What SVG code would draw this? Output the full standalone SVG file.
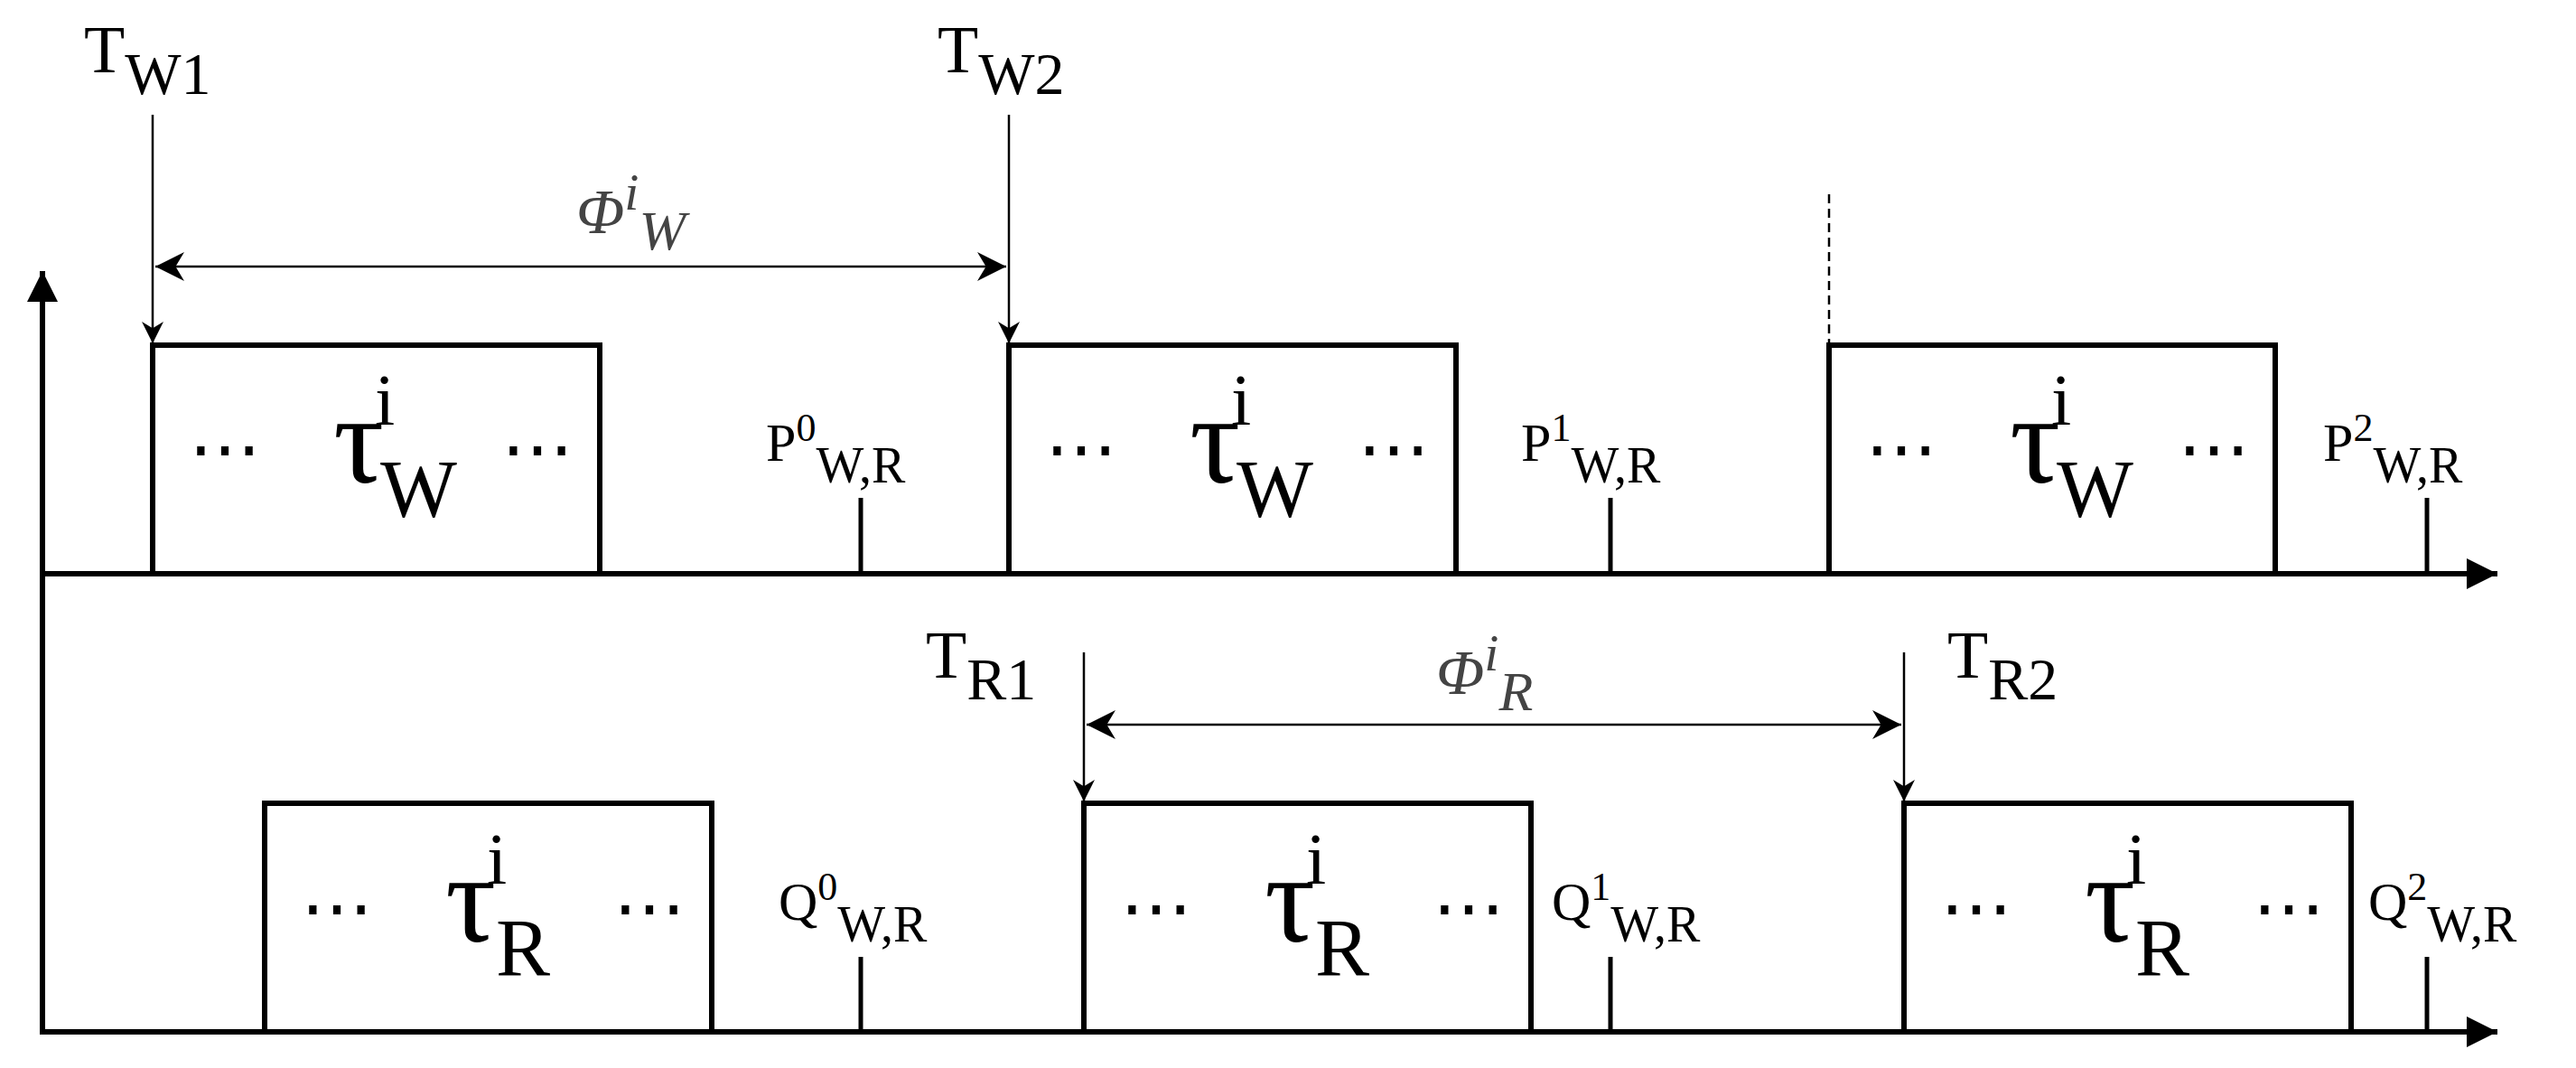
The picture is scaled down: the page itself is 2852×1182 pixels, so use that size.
<svg xmlns="http://www.w3.org/2000/svg" width="2852" height="1182" viewBox="0 0 2852 1182">
<style>
.ax{stroke:#000;stroke-width:6;fill:none}
.bx{stroke:#000;stroke-width:6;fill:#fff}
.tk{stroke:#000;stroke-width:5}
.ar{stroke:#000;stroke-width:2.5;fill:none}
text{font-family:"Liberation Serif","DejaVu Serif",serif;fill:#000}
.ph{font-style:italic;fill:#444}
</style>
<defs>
<marker id="ah" viewBox="0 0 10 10" refX="10" refY="5" markerWidth="42" markerHeight="24" markerUnits="userSpaceOnUse" orient="auto-start-reverse"><path d="M0,0 L10,5 L0,10 L3,5 Z" fill="#000"/></marker>
<marker id="big" viewBox="0 0 10 10" refX="10" refY="5" markerWidth="40" markerHeight="34" markerUnits="userSpaceOnUse" orient="auto"><path d="M0,0 L10,5 L0,10 Z" fill="#000"/></marker>
<marker id="dh" viewBox="0 0 10 10" refX="10" refY="5" markerWidth="40" markerHeight="32" markerUnits="userSpaceOnUse" orient="auto-start-reverse"><path d="M0,0 L10,5 L0,10 L3,5 Z" fill="#000"/></marker>
<g id="tw"><text x="40" y="14" font-size="80">⋯</text><text x="200" y="24" font-size="140">τ</text><text x="246" y="-40" font-size="80">i</text><text x="252" y="62" font-size="90">W</text><text x="386" y="14" font-size="80">⋯</text></g>
<g id="tr"><text x="40" y="14" font-size="80">⋯</text><text x="200" y="24" font-size="140">τ</text><text x="246" y="-40" font-size="80">i</text><text x="256" y="62" font-size="90">R</text><text x="386" y="14" font-size="80">⋯</text></g>
</defs>
<g id="axes">
<line class="ax" x1="47" y1="1145" x2="47" y2="300" marker-end="url(#big)"/>
<line class="ax" x1="44" y1="635" x2="2765" y2="635" marker-end="url(#big)"/>
<line class="ax" x1="44" y1="1142" x2="2765" y2="1142" marker-end="url(#big)"/>
</g>
<g id="w1"><rect class="bx" x="169" y="382" width="495" height="253"/><use href="#tw" x="169" y="510"/></g>
<g id="w2"><rect class="bx" x="1117" y="382" width="495" height="253"/><use href="#tw" x="1117" y="510"/></g>
<g id="w3"><rect class="bx" x="2025" y="382" width="494" height="253"/><use href="#tw" x="2025" y="510"/></g>
<g id="r1"><rect class="bx" x="293" y="889" width="495" height="253"/><use href="#tr" x="293" y="1018"/></g>
<g id="r2"><rect class="bx" x="1200" y="889" width="495" height="253"/><use href="#tr" x="1200" y="1018"/></g>
<g id="r3"><rect class="bx" x="2108" y="889" width="495" height="253"/><use href="#tr" x="2108" y="1018"/></g>
<g id="ticks">
<line class="tk" x1="953" y1="551" x2="953" y2="635"/><line class="tk" x1="1783" y1="551" x2="1783" y2="635"/><line class="tk" x1="2687" y1="551" x2="2687" y2="635"/>
<line class="tk" x1="953" y1="1059" x2="953" y2="1142"/><line class="tk" x1="1783" y1="1059" x2="1783" y2="1142"/><line class="tk" x1="2687" y1="1059" x2="2687" y2="1142"/>
</g>
<g id="labels" font-size="60">
<text x="848" y="510">P<tspan font-size="44" dy="-22">0</tspan><tspan font-size="56" dy="46">W,R</tspan></text>
<text x="1684" y="510">P<tspan font-size="44" dy="-22">1</tspan><tspan font-size="56" dy="46">W,R</tspan></text>
<text x="2572" y="510">P<tspan font-size="44" dy="-22">2</tspan><tspan font-size="56" dy="46">W,R</tspan></text>
<text x="862" y="1018">Q<tspan font-size="44" dy="-22">0</tspan><tspan font-size="56" dy="46">W,R</tspan></text>
<text x="1718" y="1018">Q<tspan font-size="44" dy="-22">1</tspan><tspan font-size="56" dy="46">W,R</tspan></text>
<text x="2622" y="1018">Q<tspan font-size="44" dy="-22">2</tspan><tspan font-size="56" dy="46">W,R</tspan></text>
<text x="93" y="80" font-size="74">T<tspan font-size="66" dy="24">W1</tspan></text>
<text x="1038" y="80" font-size="74">T<tspan font-size="66" dy="24">W2</tspan></text>
<text x="1025" y="750" font-size="74">T<tspan font-size="66" dy="24">R1</tspan></text>
<text x="2156" y="750" font-size="74">T<tspan font-size="66" dy="24">R2</tspan></text>
</g>
<g id="phis">
<text class="ph" x="638" y="258" font-size="70">Φ<tspan font-size="58" dy="-26">i</tspan><tspan font-size="62" dy="44">W</tspan></text>
<text class="ph" x="1590" y="768" font-size="70">Φ<tspan font-size="58" dy="-26">i</tspan><tspan font-size="62" dy="44">R</tspan></text>
</g>
<g id="connectors">
<line class="ar" x1="169" y1="127" x2="169" y2="380" marker-end="url(#ah)"/>
<line class="ar" x1="1117" y1="127" x2="1117" y2="380" marker-end="url(#ah)"/>
<line class="ar" x1="2025" y1="215" x2="2025" y2="380" stroke-dasharray="10,6"/>
<line class="ar" x1="1200" y1="722" x2="1200" y2="887" marker-end="url(#ah)"/>
<line class="ar" x1="2108" y1="722" x2="2108" y2="887" marker-end="url(#ah)"/>
<line class="ar" x1="172" y1="295" x2="1114" y2="295" stroke-width="4" marker-start="url(#dh)" marker-end="url(#dh)"/>
<line class="ar" x1="1203" y1="802" x2="2105" y2="802" stroke-width="4" marker-start="url(#dh)" marker-end="url(#dh)"/>
</g>
</svg>
